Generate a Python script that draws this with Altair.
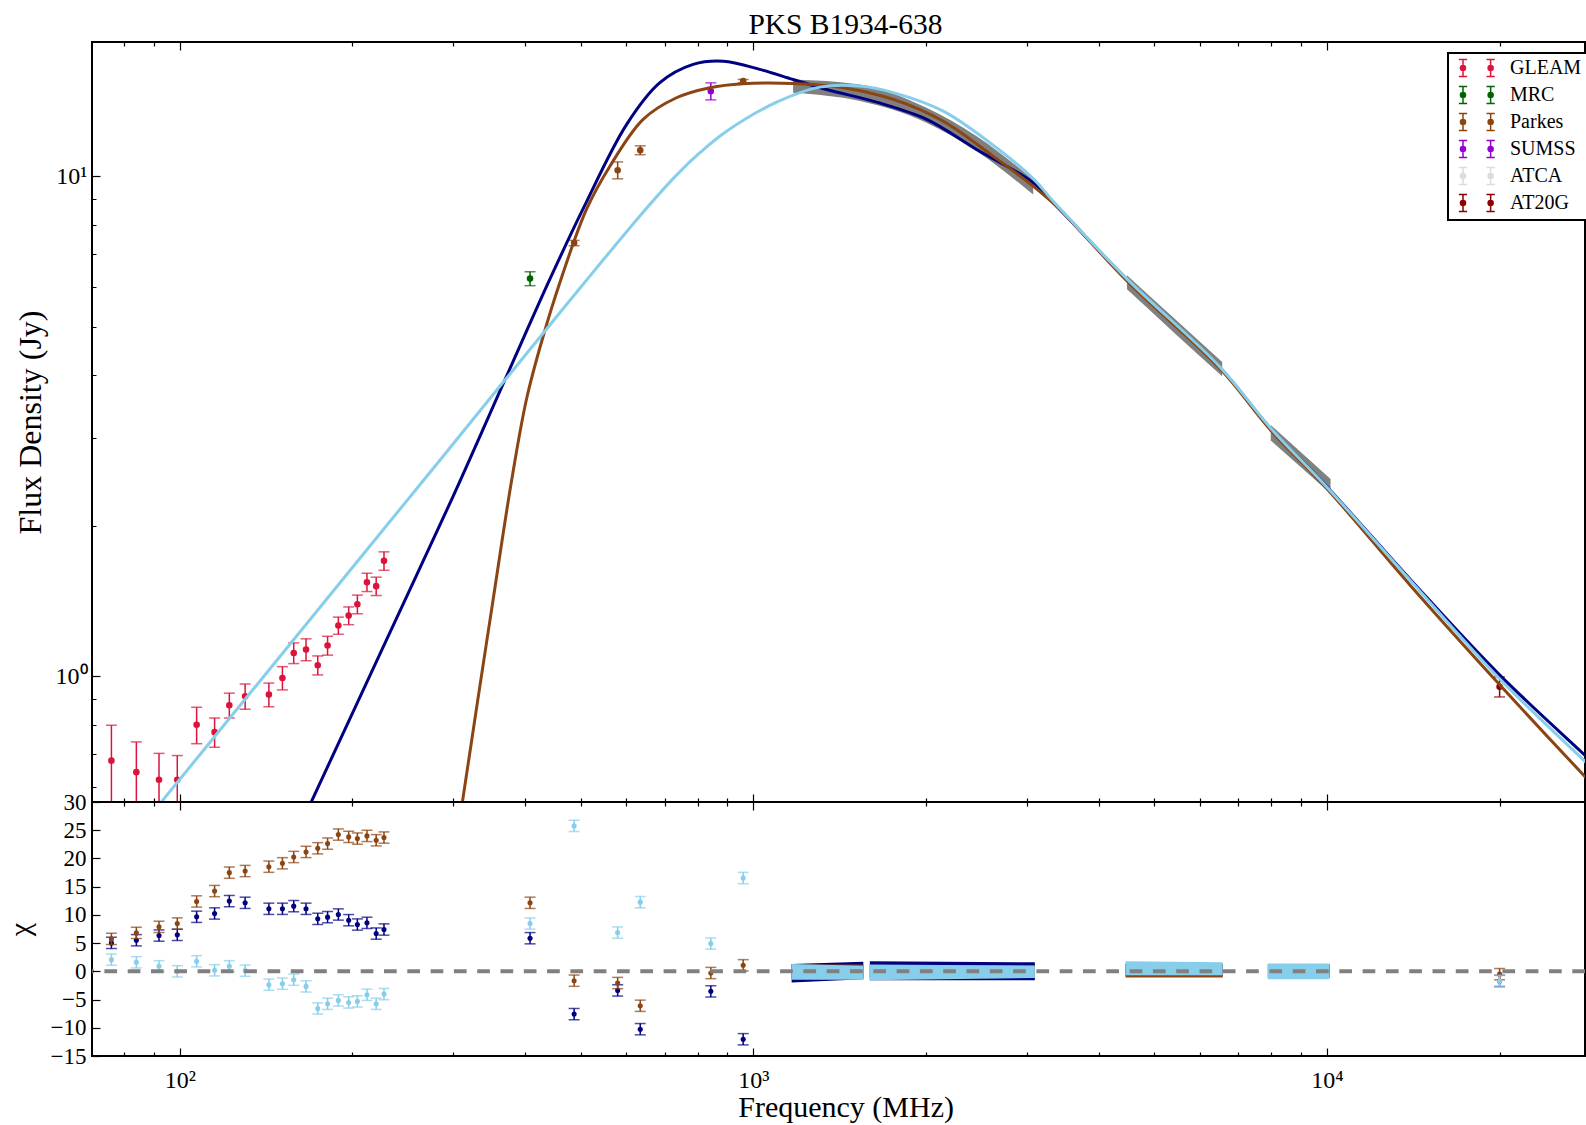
import altair as alt
import pandas as pd

# ------------------------------------------------------------------ data
surveys = ["GLEAM", "MRC", "Parkes", "SUMSS", "ATCA", "AT20G"]
survey_colors = ["#DC143C", "#006400", "#8B4513", "#9400D3", "#DCDCDC", "#8B0000"]

gleam_freq = [76, 84, 92, 99, 107, 115, 122, 130, 143, 151, 158, 166, 174, 181, 189, 197, 204, 212, 220, 227]
gleam_flux = [0.678, 0.643, 0.621, 0.621, 0.800, 0.773, 0.875, 0.912, 0.919, 0.992,
              1.113, 1.131, 1.052, 1.152, 1.263, 1.322, 1.393, 1.542, 1.514, 1.701]
gleam_err = [0.120, 0.096, 0.080, 0.073, 0.067, 0.052, 0.050, 0.053, 0.050, 0.053,
             0.053, 0.057, 0.046, 0.050, 0.050, 0.054, 0.060, 0.065, 0.064, 0.072]

other_survey = ["MRC", "Parkes", "Parkes", "Parkes", "Parkes", "SUMSS", "AT20G"]
other_freq = [408, 487, 580, 635, 960, 843, 20000]
other_flux = [6.24, 7.35, 10.28, 11.27, 15.49, 14.79, 0.953]
other_err = [0.20, 0.09, 0.40, 0.23, 0.12, 0.58, 0.044]

# ATCA broadband data (drawn as grey bands)
atca_band = ["L", "L", "L", "L", "L", "C", "C", "C", "X", "X"]
atca_freq = [1173, 1534, 2004, 2451, 3075, 4481, 5420, 6567, 7981, 10148]
atca_lo = [14.68, 14.13, 12.79, 11.22, 9.19, 5.94, 4.86, 3.98, 2.96, 2.32]
atca_hi = [15.61, 15.26, 13.70, 12.02, 9.85, 6.34, 5.19, 4.25, 3.18, 2.48]

# model curves
model_names = ["model_navy", "model_brown", "model_sky"]
model_colors = {"model_navy": "#000080", "model_brown": "#8B4513", "model_sky": "#87CEEB"}

navy_freq = [158.5, 169.7, 223.9, 299.7, 371.3, 441.6, 505.0, 601.0, 687.1, 785.2, 886.2, 1026, 1173,
             1342, 1640, 2005, 2450, 3075, 3422, 4477, 6516, 7980, 10000, 14015, 19935, 28291, 29512]
navy_flux = [0.474, 0.562, 1.115, 2.291, 3.981, 6.216, 8.61, 12.68, 15.38, 16.73, 16.98, 16.35, 15.61,
             14.91, 14.06, 12.99, 11.31, 9.70, 8.58, 6.22, 4.14, 3.126, 2.393, 1.556, 1.010, 0.692, 0.661]

brown_freq = [302.0, 311.1, 331.1, 351.8, 378.7, 402.4, 430.1, 459.8, 511.7, 562.2, 642.4, 734.5, 839.9,
              959.8, 1173, 1435, 1754, 2143, 2619, 3075, 3422, 4477, 6516, 7980, 10000, 14015, 19935,
              28291, 29512]
brown_flux = [0.450, 0.562, 0.903, 1.423, 2.455, 3.589, 4.786, 6.124, 8.580, 10.47, 12.99, 14.35, 15.03,
              15.31, 15.33, 15.03, 14.24, 12.88, 10.96, 9.55, 8.58, 6.18, 4.12, 3.105, 2.371, 1.514, 0.966,
              0.627, 0.596]

sky_freq = [85.1, 92.8, 137.9, 199.5, 284.1, 459.8, 642.4, 734.5, 806.8, 898.1, 1098, 1306, 1534, 1754,
            2143, 2619, 3075, 3333, 4477, 6516, 7980, 10000, 14015, 19935, 28291, 29512]
sky_flux = [0.495, 0.560, 0.977, 1.644, 2.704, 5.332, 8.472, 10.05, 11.14, 12.30, 14.06, 15.07, 15.14,
            14.69, 13.49, 11.53, 9.89, 8.91, 6.24, 4.15, 3.133, 2.388, 1.549, 0.992, 0.673, 0.643]

# residuals (chi) for each model
resid_freq = gleam_freq + [408, 487, 580, 635, 843, 960, 20000]
chi_navy = [5.04, 5.51, 6.34, 6.46, 9.66, 10.25, 12.44, 12.14, 11.08, 11.08, 11.55, 11.08, 9.30, 9.60,
            10.07, 9.06, 8.29, 8.59, 6.69, 7.41, 5.87, -7.58, -3.38, -10.25, -3.55, -12.03, -1.7]
chi_brown = [5.75, 6.81, 7.88, 8.47, 12.38, 14.22, 17.48, 17.77, 18.54, 19.14, 20.26, 21.15, 21.80, 22.63,
             24.23, 23.82, 23.52, 23.99, 23.22, 23.70, 12.14, -1.66, -2.07, -6.10, -0.30, 1.07, -0.5]
chi_sky = [2.07, 1.60, 0.89, 0.0, 1.78, 0.18, 0.89, 0.12, -2.37, -2.19, -1.48, -2.67, -6.58, -5.75,
           -5.15, -5.51, -5.33, -4.15, -5.75, -4.03, 8.47, 25.77, 6.87, 12.26, 4.92, 16.53, -1.7]

# residual spread of the ATCA broadband data
rband_seg = ["A", "A", "B", "B", "C", "C", "D", "D"]
rband_freq = [1166, 1555, 1596, 3096, 4457, 6579, 7890, 10100]
rband_navy_lo = [-2.0, -1.4, -1.6, -1.6, -0.9, -0.9, -1.1, -1.1]
rband_navy_hi = [1.3, 1.7, 1.8, 1.6, 1.4, 1.4, 1.3, 1.3]
rband_brown_lo = [-1.2, -1.2, -1.1, -1.1, -1.1, -1.1, -1.2, -1.2]
rband_brown_hi = [1.2, 1.2, 1.1, 1.1, 1.3, 1.3, 1.2, 1.2]
rband_sky_lo = [-1.5, -1.5, -1.6, -1.2, -0.7, -0.7, -1.4, -1.4]
rband_sky_hi = [1.3, 1.0, 1.2, 1.0, 1.8, 1.6, 1.4, 1.4]

x_ticks = [80, 90, 100, 200, 300, 400, 500, 600, 700, 800, 900, 1000, 2000, 3000, 4000, 5000,
           6000, 7000, 8000, 9000, 10000, 20000]
y_ticks_top = [0.6, 0.7, 0.8, 0.9, 1, 2, 3, 4, 5, 6, 7, 8, 9, 10]
y_ticks_bot = [-15, -10, -5, 0, 5, 10, 15, 20, 25, 30]

# ------------------------------------------------------------------ tables
pts_df = pd.DataFrame({
    "survey": ["GLEAM"] * len(gleam_freq) + other_survey,
    "freq": gleam_freq + other_freq,
    "flux": gleam_flux + other_flux,
    "err": gleam_err + other_err,
})
pts_df["lo"] = pts_df["flux"] - pts_df["err"]
pts_df["hi"] = pts_df["flux"] + pts_df["err"]

atca_df = pd.DataFrame({"band": atca_band, "freq": atca_freq, "lo": atca_lo, "hi": atca_hi})

curves = {
    "model_navy": pd.DataFrame({"freq": navy_freq, "flux": navy_flux}),
    "model_brown": pd.DataFrame({"freq": brown_freq, "flux": brown_flux}),
    "model_sky": pd.DataFrame({"freq": sky_freq, "flux": sky_flux}),
}
chis = {"model_navy": chi_navy, "model_brown": chi_brown, "model_sky": chi_sky}
rbands = {
    "model_navy": (rband_navy_lo, rband_navy_hi),
    "model_brown": (rband_brown_lo, rband_brown_hi),
    "model_sky": (rband_sky_lo, rband_sky_hi),
}

# ------------------------------------------------------------------ styling
SERIF = "Liberation Serif"
W, H1, H2 = 1493, 760, 254
X_DOMAIN = [70.3, 28180]
Y_DOMAIN = [0.5604, 18.55]

MAJ_X = "datum.value == 100 || datum.value == 1000 || datum.value == 10000"
MAJ_Y = "datum.value == 1 || datum.value == 10"


def dash(test):
    return {"condition": {"test": test, "value": [10, 0]}, "value": [0, 4, 4, 0]}


def tick_axis(orient, values, test=None, **kw):
    base = dict(orient=orient, values=values, offset=-8, tickSize=8, domain=False, grid=False,
                labels=False, title=None, zindex=1, minExtent=0)
    if test is not None:
        base["tickDash"] = dash(test)
    base.update(kw)
    return alt.Axis(**base)


x_label_expr = ("datum.value == 100 ? '10\u00b2' : datum.value == 1000 ? '10\u00b3' : "
                "datum.value == 10000 ? '10\u2074' : ''")
y_label_expr = "datum.value == 1 ? '10\u2070' : datum.value == 10 ? '10\u00b9' : ''"
chi_label_expr = "datum.value < 0 ? '\u2212' + abs(datum.value) : '' + datum.value"

xs_top = alt.Scale(type="log", domain=X_DOMAIN, nice=False)
ys_top = alt.Scale(type="log", domain=Y_DOMAIN, nice=False)
xs_bot = alt.Scale(type="log", domain=X_DOMAIN, nice=False)
ys_bot = alt.Scale(domain=[-15, 30], nice=False, zero=False)
survey_scale = alt.Scale(domain=surveys, range=survey_colors)

GLYPH = ("M0,-0.95L0,0.95M-0.46,-0.95L0.46,-0.95M-0.46,0.95L0.46,0.95"
         "M0.28,0A0.28,0.28,0,1,1,-0.28,0A0.28,0.28,0,1,1,0.28,0Z"
         "M3.07,-0.95L3.07,0.95M2.61,-0.95L3.53,-0.95M2.61,0.95L3.53,0.95"
         "M3.35,0A0.28,0.28,0,1,1,2.79,0A0.28,0.28,0,1,1,3.35,0Z")

legend = alt.Legend(
    title=None, orient="none", legendX=1356, legendY=11,
    symbolType=GLYPH, symbolSize=324, symbolStrokeWidth=1.5, symbolOpacity=1,
    labelFont=SERIF, labelFontSize=20, labelColor="black", labelOffset=37,
    rowPadding=3, padding=5, strokeColor="black", fillColor="white", cornerRadius=0,
)

# ------------------------------------------------------------------ top panel
band = alt.Chart(atca_df).mark_area(color="#808080", clip=True, interpolate="monotone").encode(
    x=alt.X("freq:Q", scale=xs_top, axis=tick_axis("top", x_ticks, MAJ_X)),
    y=alt.Y("lo:Q", scale=ys_top, axis=tick_axis(
        "left", y_ticks_top, MAJ_Y, labels=True, labelExpr=y_label_expr, labelPadding=5,
        labelOverlap=False, labelFontSize=24, title="Flux Density (Jy)", titleX=-70, titleY=380,
        titleBaseline="middle", titleAlign="center", titleAngle=270, titleFontSize=32)),
    y2="hi:Q",
    detail="band:N",
)

errbars = alt.Chart(pts_df).mark_rule(strokeWidth=1.5, clip=True).encode(
    x=alt.X("freq:Q", scale=xs_top, axis=tick_axis("bottom", x_ticks, MAJ_X)),
    y=alt.Y("lo:Q", scale=ys_top, axis=None),
    y2="hi:Q",
    stroke=alt.Stroke("survey:N", scale=survey_scale, legend=legend),
)
caps_lo = alt.Chart(pts_df).mark_tick(orient="horizontal", size=11, thickness=1.5, clip=True).encode(
    x=alt.X("freq:Q", scale=xs_top, axis=None),
    y=alt.Y("lo:Q", scale=ys_top, axis=None),
    fill=alt.Fill("survey:N", scale=survey_scale, legend=legend),
)
caps_hi = alt.Chart(pts_df).mark_tick(orient="horizontal", size=11, thickness=1.5, clip=True).encode(
    x=alt.X("freq:Q", scale=xs_top, axis=None),
    y=alt.Y("hi:Q", scale=ys_top, axis=None),
    fill=alt.Fill("survey:N", scale=survey_scale, legend=legend),
)
points = alt.Chart(pts_df).mark_point(filled=True, size=26, strokeWidth=1.5, opacity=1, clip=True).encode(
    x=alt.X("freq:Q", scale=xs_top, axis=None),
    y=alt.Y("flux:Q", scale=ys_top, axis=None),
    fill=alt.Fill("survey:N", scale=survey_scale, legend=legend),
    stroke=alt.Stroke("survey:N", scale=survey_scale, legend=legend),
)

curve_layers = []
for m in model_names:
    curve_layers.append(
        alt.Chart(curves[m]).mark_line(color=model_colors[m], strokeWidth=3, clip=True,
                                       interpolate="catmull-rom").encode(
            x=alt.X("freq:Q", scale=xs_top, axis=None),
            y=alt.Y("flux:Q", scale=ys_top, axis=None),
        )
    )

top = alt.layer(band, errbars, caps_lo, caps_hi, points, *curve_layers).resolve_axis(
    x="independent", y="independent"
).properties(
    width=W, height=H1,
    title=alt.TitleParams("PKS B1934-638", font=SERIF, fontSize=29.5, fontWeight="normal",
                          anchor="middle", frame="group", offset=8, dy=30, baseline="alphabetic",
                          dx=7, color="black"),
)

# ------------------------------------------------------------------ residual panel
res_layers = []
for i, m in enumerate(model_names):
    lo, hi = rbands[m]
    bdf = pd.DataFrame({"seg": rband_seg, "freq": rband_freq, "lo": lo, "hi": hi})
    if i == 0:
        xax = tick_axis("bottom", x_ticks, MAJ_X, labels=True, labelExpr=x_label_expr, labelPadding=12,
                        labelOverlap=False, labelFlush=False, labelFontSize=24, title="Frequency (MHz)",
                        titleX=753.6, titleY=68, titleBaseline="alphabetic", titleAlign="center",
                        titleAngle=0)
        yax = tick_axis("left", y_ticks_bot, None, labels=True, labelExpr=chi_label_expr,
                        labelPadding=6, labelOverlap=False, title="\u03c7", titleX=-80,
                        titleY=127, titleBaseline="middle", titleAlign="center", titleAngle=270)
    elif i == 1:
        xax = tick_axis("top", x_ticks, MAJ_X)
        yax = None
    else:
        xax = None
        yax = None
    res_layers.append(
        alt.Chart(bdf).mark_area(color=model_colors[m], clip=True).encode(
            x=alt.X("freq:Q", scale=xs_bot, axis=xax),
            y=alt.Y("lo:Q", scale=ys_bot, axis=yax),
            y2="hi:Q",
            detail="seg:N",
        )
    )

for m in model_names:
    rdf = pd.DataFrame({"freq": resid_freq, "chi": chis[m]})
    rdf["lo"] = rdf["chi"] - 1.0
    rdf["hi"] = rdf["chi"] + 1.0
    c = model_colors[m]
    res_layers.append(alt.Chart(rdf).mark_rule(color=c, strokeWidth=1.5, clip=True).encode(
        x=alt.X("freq:Q", scale=xs_bot, axis=None),
        y=alt.Y("lo:Q", scale=ys_bot, axis=None), y2="hi:Q"))
    for col in ("lo", "hi"):
        res_layers.append(alt.Chart(rdf).mark_tick(color=c, orient="horizontal", size=11,
                                                   thickness=1.5, clip=True).encode(
            x=alt.X("freq:Q", scale=xs_bot, axis=None),
            y=alt.Y(f"{col}:Q", scale=ys_bot, axis=None)))
    res_layers.append(alt.Chart(rdf).mark_point(color=c, filled=True, size=26, strokeWidth=1.5,
                                                opacity=1, clip=True).encode(
        x=alt.X("freq:Q", scale=xs_bot, axis=None),
        y=alt.Y("chi:Q", scale=ys_bot, axis=None)))

zero_df = pd.DataFrame({"chi": [0]})
res_layers.append(alt.Chart(zero_df).mark_rule(color="#808080", strokeWidth=4,
                                               strokeDash=[12.7, 10.6]).encode(
    y=alt.Y("chi:Q", scale=ys_bot, axis=None)))

bottom = alt.layer(*res_layers).resolve_axis(x="independent", y="independent").properties(
    width=W, height=H2)

chart = alt.vconcat(top, bottom, spacing=0).properties(
    bounds="flush",
    autosize=alt.AutoSizeParams(type="none"),
    padding={"left": 92, "top": 42, "right": 1, "bottom": 1083},
).configure_view(
    stroke="black", strokeWidth=2,
).configure_axis(
    labelFont=SERIF, labelFontSize=23, labelColor="black",
    titleFont=SERIF, titleFontSize=30, titleFontWeight="normal", titleColor="black",
    tickColor="black", tickWidth=1.2,
).configure_legend(
    strokeWidth=2,
)

chart.save("out.html", embed_options={"renderer": "svg", "actions": False})
